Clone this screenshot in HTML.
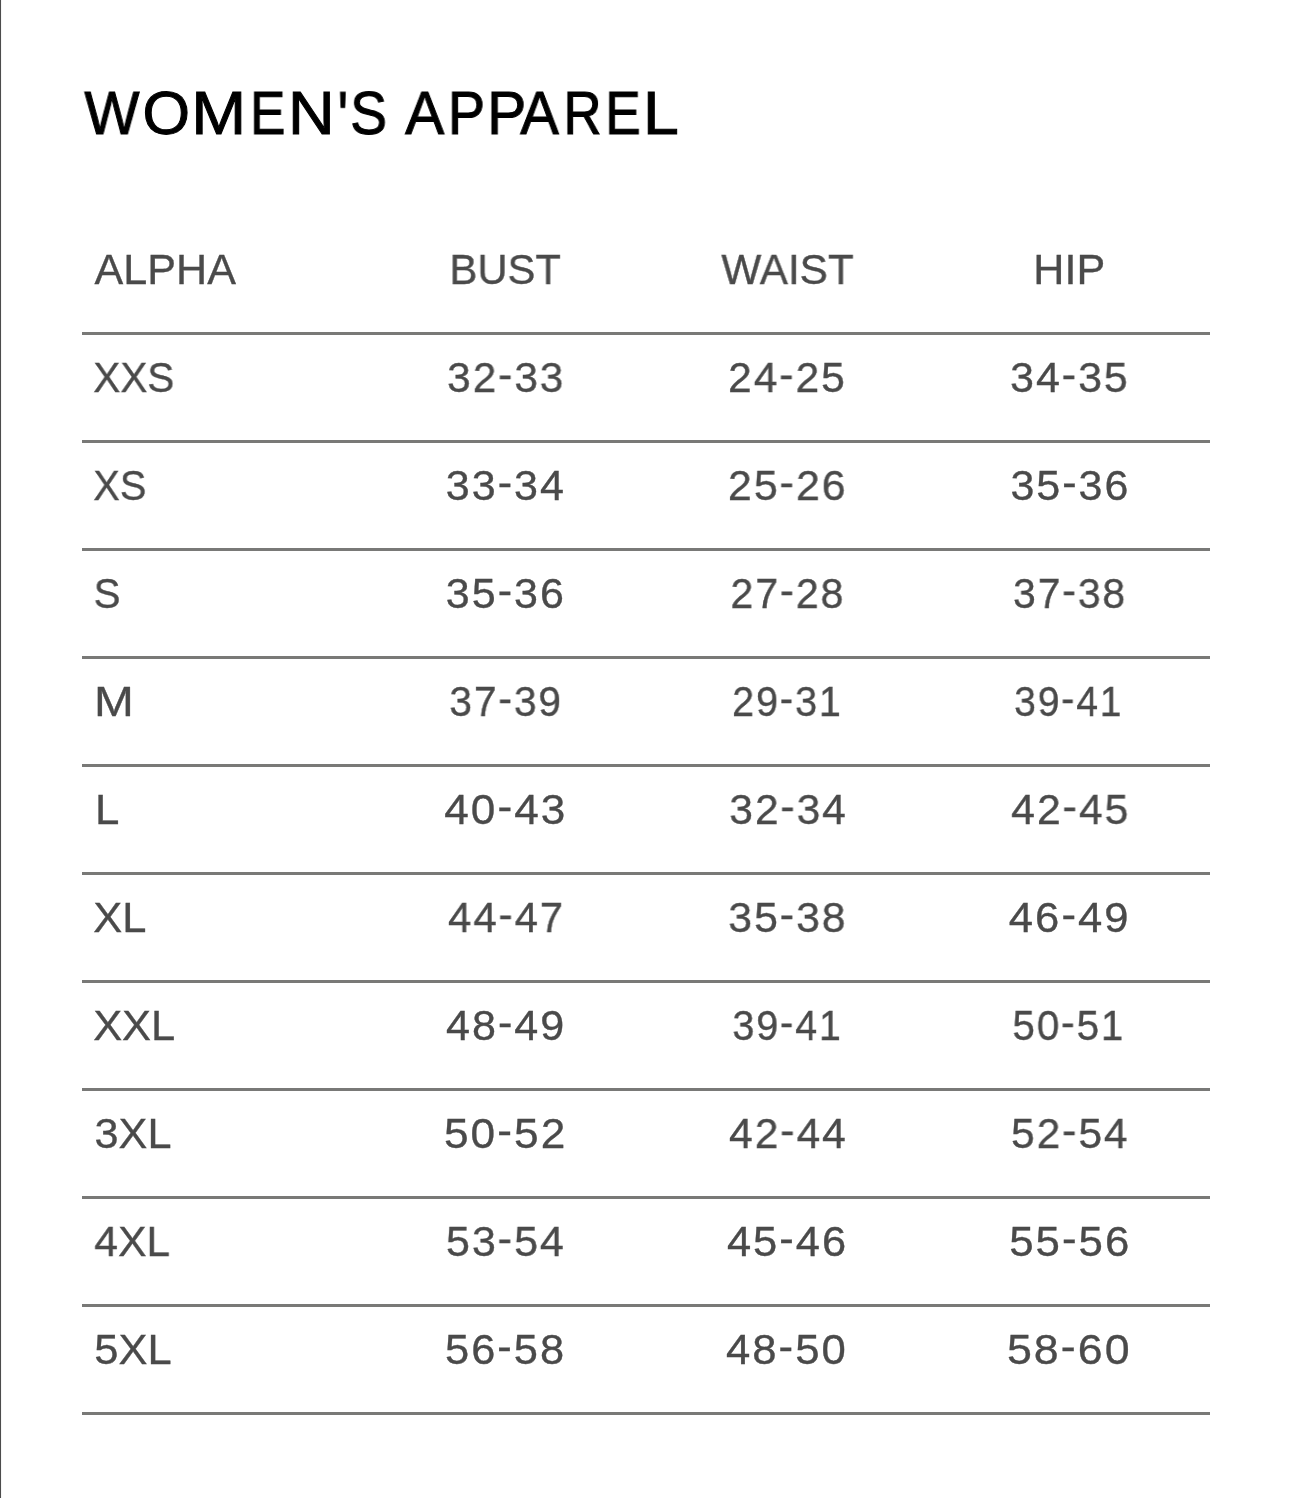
<!DOCTYPE html>
<html><head><meta charset="utf-8"><title>Women's Apparel Size Chart</title><style>
html,body{margin:0;padding:0;background:#fff;}
body{width:1290px;height:1498px;position:relative;overflow:hidden;font-family:"Liberation Sans",sans-serif;}
.vl{position:absolute;left:0;top:0;width:1px;height:1498px;background:#4c4c4c;}
.vl2{position:absolute;left:1px;top:0;width:1px;height:1498px;background:#f6f6f6;}
.hl{position:absolute;left:82px;width:1128px;height:3px;background:#797977;}
.x{position:absolute;white-space:nowrap;line-height:1;transform-origin:0 0;will-change:transform;}
.hy{display:inline-block;transform:translateY(-3.5px) scaleY(1.0);transform-origin:center;}
.t{font-size:61.0px;color:#000;-webkit-text-stroke:1.0px #000;}
.d{font-size:43.0px;color:#4a4a4a;-webkit-text-stroke:0.35px #4a4a4a;}

</style></head><body>
<div class="vl"></div><div class="vl2"></div>

<div class="hl" style="top:332px"></div>
<div class="hl" style="top:440px"></div>
<div class="hl" style="top:548px"></div>
<div class="hl" style="top:656px"></div>
<div class="hl" style="top:764px"></div>
<div class="hl" style="top:872px"></div>
<div class="hl" style="top:980px"></div>
<div class="hl" style="top:1088px"></div>
<div class="hl" style="top:1196px"></div>
<div class="hl" style="top:1304px"></div>
<div class="hl" style="top:1412px"></div>
<span class="x t" id="t0" style="left:85px;top:83.25px;transform:translateX(-0.60px) scaleX(0.9573);">W</span>
<span class="x t" id="t1" style="left:145px;top:83.25px;transform:translateX(-2.49px) scaleX(1.0022);">O</span>
<span class="x t" id="t2" style="left:196px;top:83.25px;transform:translateX(-4.85px) scaleX(1.0807);">M</span>
<span class="x t" id="t3" style="left:254px;top:83.25px;transform:translateX(-3.90px) scaleX(0.8683);">E</span>
<span class="x t" id="t4" style="left:293px;top:83.25px;transform:translateX(-4.93px) scaleX(1.0589);">N</span>
<span class="x t" id="t5" style="left:341px;top:83.25px;transform-origin:0 8.35px;transform:translate(-3.27px,1px) scale(0.8807,1.15);">&#39;</span>
<span class="x t" id="t6" style="left:352px;top:83.25px;transform:translateX(-1.88px) scaleX(0.9076);">S</span>
<span class="x t" id="t7" style="left:405px;top:83.25px;transform:translateX(0.10px) scaleX(0.9623);">A</span>
<span class="x t" id="t8" style="left:452px;top:83.25px;transform:translateX(-4.13px) scaleX(0.9135);">P</span>
<span class="x t" id="t9" style="left:492px;top:83.25px;transform:translateX(-4.94px) scaleX(0.9634);">P</span>
<span class="x t" id="t10" style="left:520px;top:83.25px;transform:translateX(0.25px) scaleX(0.9493);">A</span>
<span class="x t" id="t11" style="left:568px;top:83.25px;transform:translateX(-4.60px) scaleX(0.8676);">R</span>
<span class="x t" id="t12" style="left:609px;top:83.25px;transform:translateX(-3.79px) scaleX(0.8729);">E</span>
<span class="x t" id="t13" style="left:648px;top:83.25px;transform:translateX(-5.09px) scaleX(1.0545);">L</span>
<span class="x d" id="h0" style="left:95px;top:247.59px;transform:translateX(-0.43px) scaleX(1.0021);">ALPHA</span>
<span class="x d" id="h1" style="left:453px;top:247.59px;transform:translateX(-3.57px) scaleX(0.9715);">BUST</span>
<span class="x d" id="h2" style="left:722px;top:247.59px;transform:translateX(-0.66px) scaleX(0.9843);">WAIST</span>
<span class="x d" id="h3" style="left:1037px;top:247.59px;transform:translateX(-3.67px) scaleX(1.0022);">HIP</span>
<span class="x d" id="r0c0" style="left:95px;top:356.39px;transform:translateX(-1.77px) scaleX(0.9436);">XXS</span>
<span class="x d" id="r0c1" style="left:449px;top:356.39px;letter-spacing:2px;transform:translateX(-1.88px) scaleX(0.9851);">32<span class="hy">-</span>33</span>
<span class="x d" id="r0c2" style="left:730px;top:356.39px;letter-spacing:2px;transform:translateX(-1.97px) scaleX(0.9897);">24<span class="hy">-</span>25</span>
<span class="x d" id="r0c3" style="left:1012px;top:356.39px;letter-spacing:2px;transform:translateX(-1.90px) scaleX(0.9968);">34<span class="hy">-</span>35</span>
<span class="x d" id="r1c0" style="left:95px;top:464.39px;transform:translateX(-1.75px) scaleX(0.9249);">XS</span>
<span class="x d" id="r1c1" style="left:448px;top:464.39px;letter-spacing:2px;transform:translateX(-2.22px) scaleX(1.0005);">33<span class="hy">-</span>34</span>
<span class="x d" id="r1c2" style="left:730px;top:464.39px;letter-spacing:2px;transform:translateX(-2.12px) scaleX(0.9979);">25<span class="hy">-</span>26</span>
<span class="x d" id="r1c3" style="left:1012px;top:464.39px;letter-spacing:2px;transform:translateX(-1.60px) scaleX(1.0000);">35<span class="hy">-</span>36</span>
<span class="x d" id="r2c0" style="left:96px;top:572.39px;transform:translateX(-2.36px) scaleX(0.9349);">S</span>
<span class="x d" id="r2c1" style="left:448px;top:572.39px;letter-spacing:2px;transform:translateX(-2.13px) scaleX(1.0004);">35<span class="hy">-</span>36</span>
<span class="x d" id="r2c2" style="left:733px;top:572.39px;letter-spacing:2px;transform:translateX(-2.62px) scaleX(0.9588);">27<span class="hy">-</span>28</span>
<span class="x d" id="r2c3" style="left:1015px;top:572.39px;letter-spacing:2px;transform:translateX(-1.97px) scaleX(0.9503);">37<span class="hy">-</span>38</span>
<span class="x d" id="r3c0" style="left:98px;top:680.39px;transform:translateX(-4.12px) scaleX(1.1117);">M</span>
<span class="x d" id="r3c1" style="left:451px;top:680.39px;letter-spacing:2px;transform:translateX(-1.66px) scaleX(0.9468);">37<span class="hy">-</span>39</span>
<span class="x d" id="r3c2" style="left:734px;top:680.39px;letter-spacing:2px;transform:translateX(-1.97px) scaleX(0.9234);">29<span class="hy">-</span>31</span>
<span class="x d" id="r3c3" style="left:1016px;top:680.39px;letter-spacing:2px;transform:translateX(-1.88px) scaleX(0.9104);">39<span class="hy">-</span>41</span>
<span class="x d" id="r4c0" style="left:98px;top:788.39px;transform:translateX(-3.10px) scaleX(1.0186);">L</span>
<span class="x d" id="r4c1" style="left:445px;top:788.39px;letter-spacing:2px;transform:translateX(-0.83px) scaleX(1.0264);">40<span class="hy">-</span>43</span>
<span class="x d" id="r4c2" style="left:731px;top:788.39px;letter-spacing:2px;transform:translateX(-1.72px) scaleX(0.9877);">32<span class="hy">-</span>34</span>
<span class="x d" id="r4c3" style="left:1012px;top:788.39px;letter-spacing:2px;transform:translateX(-0.89px) scaleX(0.9939);">42<span class="hy">-</span>45</span>
<span class="x d" id="r5c0" style="left:95px;top:896.39px;transform:translateX(-1.78px) scaleX(1.0109);">XL</span>
<span class="x d" id="r5c1" style="left:449px;top:896.39px;letter-spacing:2px;transform:translateX(-0.98px) scaleX(0.9757);">44<span class="hy">-</span>47</span>
<span class="x d" id="r5c2" style="left:730px;top:896.39px;letter-spacing:2px;transform:translateX(-1.73px) scaleX(0.9942);">35<span class="hy">-</span>38</span>
<span class="x d" id="r5c3" style="left:1010px;top:896.39px;letter-spacing:2px;transform:translateX(-1.21px) scaleX(1.0144);">46<span class="hy">-</span>49</span>
<span class="x d" id="r6c0" style="left:95px;top:1004.39px;transform:translateX(-1.86px) scaleX(1.0106);">XXL</span>
<span class="x d" id="r6c1" style="left:447px;top:1004.39px;letter-spacing:2px;transform:translateX(-1.05px) scaleX(1.0020);">48<span class="hy">-</span>49</span>
<span class="x d" id="r6c2" style="left:734px;top:1004.39px;letter-spacing:2px;transform:translateX(-1.62px) scaleX(0.9204);">39<span class="hy">-</span>41</span>
<span class="x d" id="r6c3" style="left:1014px;top:1004.39px;letter-spacing:2px;transform:translateX(-1.61px) scaleX(0.9407);">50<span class="hy">-</span>51</span>
<span class="x d" id="r7c0" style="left:96px;top:1112.39px;transform:translateX(-1.40px) scaleX(1.0046);">3XL</span>
<span class="x d" id="r7c1" style="left:446px;top:1112.39px;letter-spacing:2px;transform:translateX(-2.07px) scaleX(1.0283);">50<span class="hy">-</span>52</span>
<span class="x d" id="r7c2" style="left:730px;top:1112.39px;letter-spacing:2px;transform:translateX(-0.99px) scaleX(0.9900);">42<span class="hy">-</span>44</span>
<span class="x d" id="r7c3" style="left:1013px;top:1112.39px;letter-spacing:2px;transform:translateX(-1.99px) scaleX(0.9878);">52<span class="hy">-</span>54</span>
<span class="x d" id="r8c0" style="left:95px;top:1220.39px;transform:translateX(-0.79px) scaleX(0.9930);">4XL</span>
<span class="x d" id="r8c1" style="left:448px;top:1220.39px;letter-spacing:2px;transform:translateX(-2.10px) scaleX(0.9995);">53<span class="hy">-</span>54</span>
<span class="x d" id="r8c2" style="left:728px;top:1220.39px;letter-spacing:2px;transform:translateX(-1.06px) scaleX(1.0097);">45<span class="hy">-</span>46</span>
<span class="x d" id="r8c3" style="left:1011px;top:1220.39px;letter-spacing:2px;transform:translateX(-1.84px) scaleX(1.0177);">55<span class="hy">-</span>56</span>
<span class="x d" id="r9c0" style="left:96px;top:1328.39px;transform:translateX(-1.70px) scaleX(1.0094);">5XL</span>
<span class="x d" id="r9c1" style="left:447px;top:1328.39px;letter-spacing:2px;transform:translateX(-2.01px) scaleX(1.0090);">56<span class="hy">-</span>58</span>
<span class="x d" id="r9c2" style="left:727px;top:1328.39px;letter-spacing:2px;transform:translateX(-1.07px) scaleX(1.0158);">48<span class="hy">-</span>50</span>
<span class="x d" id="r9c3" style="left:1009px;top:1328.39px;letter-spacing:2px;transform:translateX(-2.11px) scaleX(1.0400);">58<span class="hy">-</span>60</span>
</body></html>
